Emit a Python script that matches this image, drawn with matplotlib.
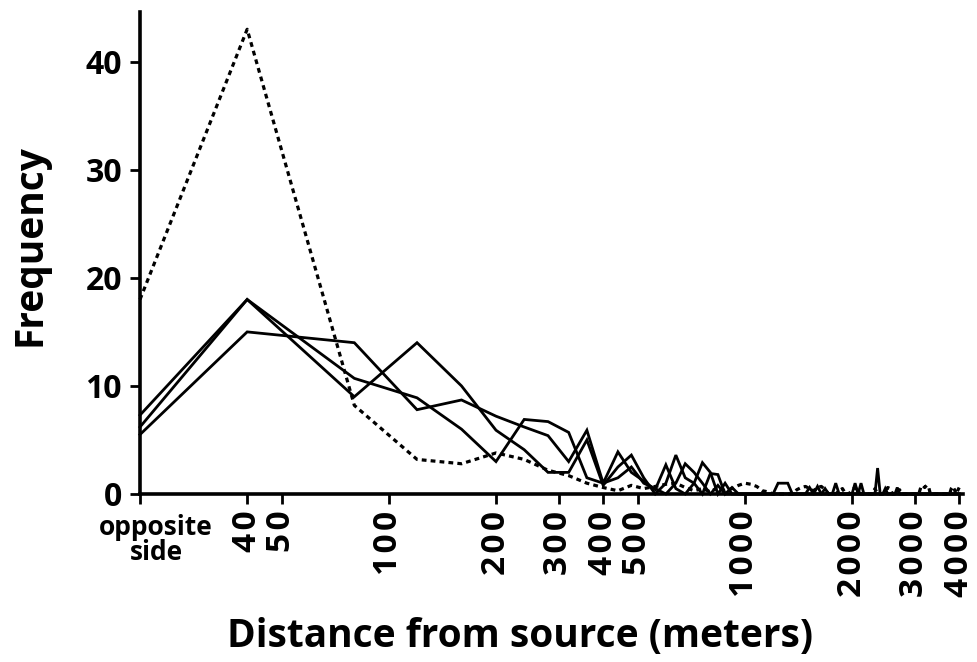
import matplotlib
matplotlib.use("Agg")
import matplotlib.pyplot as plt
from matplotlib.ticker import FixedLocator, NullLocator

plt.rcParams['font.family'] = ['Open Sans', 'DejaVu Sans']
plt.rcParams['font.weight'] = 'bold'

# Distance bins (m): "opposite side" plotted at 20, then 40 m bins up to 4000 m
distance_m = [20] + list(range(40, 4001, 40))

series_a = [5.5,
    15, 14, 7.8, 8.7, 7.2, 6.2, 5.4, 3.0, 5.9, 1.0,
    3.9, 2.0, 1.2, 0.4, 2.7, 0.5, 0, 1.0, 2.9, 2.0,
    0, 1.0, 0, 0, 0, 0, 0, 0, 0, 0,
    1, 1, 1, 0, 0, 0, 0, 0.6, 0, 0,
    0, 0.5, 0, 0, 0, 0, 0, 0, 0, 0,
    0, 0, 0, 0, 0, 0, 0, 0, 0, 0,
    0, 0.5, 0, 0, 0, 0, 0, 0, 0, 0,
    0, 0, 0, 0, 0, 0, 0, 0, 0, 0,
    0, 0, 0, 0, 0, 0, 0, 0, 0, 0,
    0, 0, 0, 0, 0, 0, 0, 0, 0, 0]

series_b = [7.3,
    18, 9.0, 14, 10, 5.9, 4.1, 2.0, 2.0, 5.0, 0.8,
    2.5, 3.6, 1.5, 0, 1.0, 3.6, 1.5, 1.0, 0, 1.9,
    1.8, 0, 0.6, 0, 0, 0, 0, 0, 0, 0,
    0, 0, 0, 0, 0, 0, 0, 0, 0, 0,
    0, 0, 0, 0, 1, 0, 0, 0, 0, 0,
    0, 0, 0, 0, 0, 0, 0, 0, 2.4, 0,
    0, 0, 0, 0, 0, 0, 0, 0, 0, 0,
    0, 0, 0, 0, 0, 0, 0, 0, 0, 0,
    0, 0, 0, 0, 0, 0, 0, 0, 0, 0,
    0, 0, 0, 0, 0, 0, 0, 0, 0, 0]

series_c = [6.2,
    18, 10.7, 8.9, 6.0, 3.0, 6.9, 6.7, 5.7, 1.5, 1.0,
    1.5, 2.5, 1.0, 0.5, 0, 1.0, 2.8, 2.0, 1.0, 0,
    0.8, 0, 0, 0, 0, 0, 0, 0, 0, 0,
    0, 0, 0, 0, 0, 0, 0, 0, 0, 0.7,
    0, 0, 0, 0, 0, 0, 0, 0, 0, 0,
    1, 0, 1, 0, 0, 0, 0, 0, 0, 0,
    0, 0, 0, 0, 0, 0, 0.6, 0, 0, 0,
    0, 0, 0, 0, 0, 0, 0, 0, 0, 0,
    0, 0, 0, 0, 0, 0, 0, 0, 0, 0,
    0, 0, 0, 0, 0, 0, 0, 0, 0, 0]

series_dotted = [18,
    43, 8.2, 3.2, 2.8, 3.8, 3.2, 2.2, 1.7, 1.0, 0.6,
    0.3, 0.8, 0.5, 0.7, 0.9, 1.0, 0.6, 0.3, 0.5, 0.2,
    0.6, 0.3, 0.5, 0.8, 1.0, 0.9, 0.7, 0.3, 0.2, 0,
    0, 0, 0, 0, 0.4, 0.6, 0.7, 0.5, 0.3, 0.6,
    0.7, 0.4, 0, 0, 0, 0.3, 0.5, 0, 0, 0.4,
    0.6, 0.3, 0, 0, 0, 0, 0, 0.5, 0, 0,
    0, 0.3, 0.6, 0.5, 0, 0, 0, 0.4, 0, 0,
    0, 0, 0, 0, 0, 0, 0, 0.6, 0.8, 0.6,
    0.8, 0.7, 0, 0, 0, 0, 0, 0, 0, 0,
    0, 0, 0, 0, 0.5, 0.7, 0.4, 0, 0.3, 0.6]

x_ticks = [20, 40, 50, 100, 200, 300, 400, 500, 1000, 2000, 3000, 4000]
x_tick_labels = ['', '40', '50', '100', '200', '300', '400', '500',
                 '1000', '2000', '3000', '4000']
y_ticks = [0, 10, 20, 30, 40]

W, H = 977, 662
fig = plt.figure(figsize=(W / 100, H / 100), dpi=100)
ax = fig.add_axes([140 / W, (H - 494) / H, (963 - 140) / W, (494 - 12) / H])

for s in (series_a, series_b, series_c):
    ax.plot(distance_m, s, color='black', lw=2.0, solid_joinstyle='miter',
            clip_on=False, zorder=3)
ax.plot(distance_m, series_dotted, color='black', lw=2.3,
        linestyle=(0, (1.5, 1.3)), clip_on=False, zorder=3)

ax.set_xscale('log')
ax.set_xlim(20, 4100)
ax.set_ylim(0, 44.6)

ax.xaxis.set_major_locator(FixedLocator(x_ticks))
ax.xaxis.set_minor_locator(NullLocator())
# slight letter spacing as in the reference tick labels
spaced = ['\u200a'.join(lbl) for lbl in x_tick_labels]
ax.set_xticklabels(spaced, rotation=90, fontsize=24, fontweight='bold')
ax.set_yticks(y_ticks)
ax.set_yticklabels([str(v) for v in y_ticks], fontsize=23, fontweight='bold')

for side in ('top', 'right'):
    ax.spines[side].set_visible(False)
for side in ('left', 'bottom'):
    ax.spines[side].set_linewidth(2.6)
    ax.spines[side].set_zorder(4)
ax.tick_params(axis='both', which='major', direction='out', width=2.0,
               length=7, color='black')
ax.tick_params(axis='x', pad=5)
ax.tick_params(axis='y', pad=6)

fig.text(156 / W, 1 - 540 / H, 'opposite\nside', ha='center', va='center',
         fontsize=19, fontweight='bold', linespacing=0.88)
fig.text(30 / W, 1 - 245 / H, 'Frequency', rotation=90, ha='center',
         va='center', fontsize=28, fontweight='bold')
fig.text(520 / W, 1 - 636 / H, 'Distance from source (meters)', ha='center',
         va='center', fontsize=28, fontweight='bold')

fig.savefig('out.png', dpi=100)
